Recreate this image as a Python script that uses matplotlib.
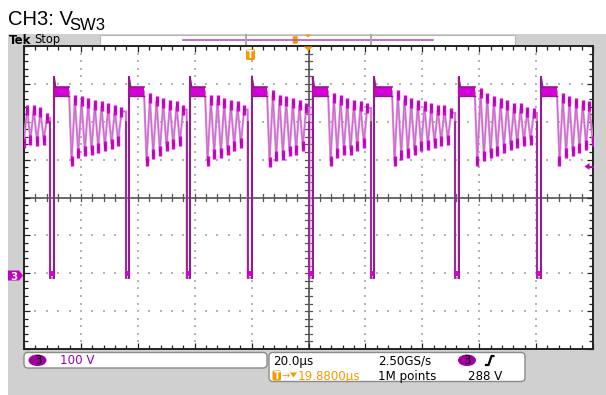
import matplotlib
matplotlib.use("Agg")
import matplotlib.pyplot as plt
from matplotlib.patches import FancyBboxPatch, Rectangle, Ellipse, Polygon

# ---------------- scope settings ----------------
TIME_DIV_US = 20.0          # horizontal scale
VOLT_DIV = 100.0            # CH3 vertical scale
H_DELAY_US = 19.88          # trigger -> screen centre
TRIG_LEVEL_V = 288.0
CH3_OFFSET_DIV = -2         # ground marker position (divisions from centre)

T_LEFT = H_DELAY_US - 5 * TIME_DIV_US
T_RIGHT = H_DELAY_US + 5 * TIME_DIV_US
V_BOTTOM = (-4 - CH3_OFFSET_DIV) * VOLT_DIV
V_TOP = (4 - CH3_OFFSET_DIV) * VOLT_DIV

# ---------------- waveform data (µs, V) ----------------
T_FALL = [-70.98, -44.27, -22.93, -1.49, 20.23, 41.85, 71.38, 100.2]
T_RISE = [-69.57, -43.21, -21.77, 0.0, 21.36, 42.91, 72.68, 101.6]
T_PLATEAU_END = [-64.30, -37.94, -16.50, 5.29, 26.74, 49.23, 78.30, 107.2]

PLATEAU_V = 480.0
PLATEAU_NOISE_V = 13.0
SPIKE_V = 517.0
LOW_V = -12.0

RING_STEP_US = 1.17         # half period of the ringing
RING_DELAY_US = 0.9         # plateau end -> first trough
RING0_START_US = -80.2

RING_VALUES = [
    [344, 432, 353, 432, 348, 427, 353, 410],
    [297, 458, 317, 454, 322, 449, 325, 445, 331, 441, 335, 436, 341, 432, 348, 427],
    [297, 462, 314, 456, 322, 449, 335, 445, 340, 441, 348, 432, 361],
    [297, 458, 316, 458, 317, 449, 325, 445, 335, 441, 343, 432, 357],
    [294, 471, 309, 458, 313, 454, 322, 449, 325, 445, 335, 436, 345],
    [296, 463, 317, 458, 325, 449, 325, 445, 335, 441, 343, 436, 360],
    [296, 471, 313, 458, 317, 449, 325, 445, 335, 441, 339, 436, 343, 432, 348, 432, 353, 423, 380],
    [296, 475, 309, 462, 317, 454, 322, 449, 331, 445, 339, 436, 343, 436, 348, 427, 353, 423, 370],
    [296, 462, 317, 454, 322, 449, 331, 445, 339, 441, 348],
]

# ---------------- colours ----------------
BG_GRAY = "#d0d0d0"
TRACE_LIGHT = "#dc8edc"
TRACE_MID = "#d600d6"
TRACE_DARK = "#8e1c8e"
CH3_PURPLE = "#a000a0"
ORANGE = "#f59a00"

W, H = 606, 395
fig = plt.figure(figsize=(W / 100, H / 100), dpi=100)

# background layer in pixel coordinates
bg = fig.add_axes([0, 0, 1, 1], zorder=0)
bg.set_xlim(0, W)
bg.set_ylim(H, 0)
bg.axis("off")

bg.add_patch(Rectangle((8, 34), W - 8, H - 34, fc=BG_GRAY, ec="none"))
bg.text(8, 25, "CH3: V", fontsize=14.5, family="Liberation Sans", va="baseline")
bg.text(69.5, 29.5, "SW3", fontsize=12, family="Liberation Sans", va="baseline")

# header bar
bg.add_patch(Rectangle((100, 34.5), 415, 10.5, fc="white", ec="#b8b8b8", lw=0.8))
bg.text(9, 43.5, "Tek", fontsize=8.5, weight="bold", family="DejaVu Sans", va="baseline")
bg.text(34, 43.5, "Stop", fontsize=8.3, family="DejaVu Sans", va="baseline")
bg.plot([183, 433], [39.5, 39.5], color="#b556c8", lw=1.2)
for xb in (246, 370.5):
    bg.plot([xb, xb], [34.5, 45], color="#a8a8a8", lw=1.4)
bg.add_patch(FancyBboxPatch((293, 36.5), 4.5, 7, boxstyle="round,pad=0.3,rounding_size=1",
                            fc=ORANGE, ec="none"))
bg.add_patch(Polygon([[305, 34.5], [311, 34.5], [308, 37.5]], closed=True, fc=ORANGE, ec="none"))

# status boxes
bg.add_patch(FancyBboxPatch((24, 352.5), 243, 15.5, boxstyle="round,pad=0,rounding_size=4",
                            fc="white", ec="#8a8a8a", lw=1))
bg.add_patch(FancyBboxPatch((269, 352.5), 256, 29, boxstyle="round,pad=0,rounding_size=4",
                            fc="white", ec="#8a8a8a", lw=1))
STATUS_FONT = dict(fontsize=8.6, family="DejaVu Sans", va="baseline")
bg.add_patch(Ellipse((37.5, 360.3), 18, 11.5, fc=CH3_PURPLE, ec="none"))
bg.text(37.5, 364.5, "3", ha="center", color="black", **STATUS_FONT)
bg.text(60, 364.5, "100 V", color=CH3_PURPLE, **STATUS_FONT)
bg.text(273, 364.5, "20.0µs", color="black", **STATUS_FONT)
bg.text(378, 364.5, "2.50GS/s", color="black", **STATUS_FONT)
bg.add_patch(Ellipse((467, 360.3), 18, 11.5, fc=CH3_PURPLE, ec="none"))
bg.text(467, 364.5, "3", ha="center", color="black", **STATUS_FONT)
bg.plot([485, 488.5, 490, 491.5, 494.5], [365, 365, 360.5, 356, 356], color="black", lw=1.6,
        solid_capstyle="butt")
bg.add_patch(FancyBboxPatch((272.5, 370.5), 8.5, 10, boxstyle="round,pad=0,rounding_size=1.5",
                            fc=ORANGE, ec="none"))
bg.text(276.8, 379, "T", ha="center", color="white", fontsize=7, weight="bold",
        family="DejaVu Sans", va="baseline")
bg.text(281.5, 379.5, "→", color=ORANGE, fontsize=7, family="DejaVu Sans", va="baseline")
bg.add_patch(Polygon([[290, 372.5], [297, 372.5], [293.5, 377.5]], closed=True, fc=ORANGE, ec="none"))
bg.text(298, 380, "19.8800µs", color=ORANGE, **STATUS_FONT)
bg.text(378, 380, "1M points", color="black", **STATUS_FONT)
bg.text(468, 380, f"{TRIG_LEVEL_V:.0f} V", color="black", **STATUS_FONT)

# ---------------- graticule / trace axes ----------------
L, R, T, B = 24, 593, 46, 349
ax = fig.add_axes([L / W, 1 - B / H, (R - L) / W, (B - T) / H], zorder=1)
ax.set_xlim(T_LEFT, T_RIGHT)
ax.set_ylim(V_BOTTOM, V_TOP)
ax.set_facecolor("white")
for s in ax.spines.values():
    s.set_color("#222222")
    s.set_linewidth(1.4)

x_major = [T_LEFT + TIME_DIV_US * i for i in range(11)]
y_major = [V_BOTTOM + VOLT_DIV * j for j in range(9)]
x_minor = [T_LEFT + TIME_DIV_US / 5 * i for i in range(51)]
y_minor = [V_BOTTOM + VOLT_DIV / 5 * j for j in range(41)]
ax.set_xticks(x_major)
ax.set_yticks(y_major)
ax.set_xticks(x_minor, minor=True)
ax.set_yticks(y_minor, minor=True)
ax.tick_params(which="both", direction="in", top=True, right=True, color="#222222",
               labelbottom=False, labelleft=False, width=0.9)
ax.tick_params(which="major", length=4)
ax.tick_params(which="minor", length=3)

x_center = x_major[5]
y_center = y_major[4]
dot_x, dot_y = [], []
for i in range(1, 10):
    if i == 5:
        continue
    for v in y_minor:
        dot_x.append(x_major[i])
        dot_y.append(v)
for j in range(1, 8):
    if j == 4:
        continue
    for t in x_minor:
        dot_x.append(t)
        dot_y.append(y_major[j])
ax.scatter(dot_x, dot_y, s=1.0, marker="s", color="#b4b4b4", linewidths=0, zorder=1)

ax.axvline(x_center, color="#6a6a6a", lw=1.4, zorder=1)
ax.axhline(y_center, color="#6a6a6a", lw=1.4, zorder=1)
tick_dv = 3.2 / 37.9 * VOLT_DIV
tick_dt = 3.2 / 56.9 * TIME_DIV_US
for t in x_minor:
    ax.plot([t, t], [y_center - tick_dv, y_center + tick_dv], color="#555555", lw=0.9, zorder=1)
for v in y_minor:
    ax.plot([x_center - tick_dt, x_center + tick_dt], [v, v], color="#555555", lw=0.9, zorder=1)

# build the CH3 trace: ringing -> fall -> low dwell -> rise -> plateau -> ringing ...
trace_t, trace_v = [], []
ext_t, ext_v = [], []
seg_start = [RING0_START_US] + [pe + RING_DELAY_US for pe in T_PLATEAU_END]
seg_end = T_FALL + [T_RIGHT + 1.0]
for i, vals in enumerate(RING_VALUES):
    if i > 0:
        trace_t.append(T_PLATEAU_END[i - 1])
        trace_v.append(PLATEAU_V)
    for k, v in enumerate(vals):
        t = seg_start[i] + k * RING_STEP_US
        if t > seg_end[i] - 0.25:
            break
        trace_t.append(t)
        trace_v.append(v)
        ext_t.append(t)
        ext_v.append(v)
    if i < len(T_FALL):
        last_v = trace_v[-1]
        trace_t += [T_FALL[i], T_FALL[i], T_RISE[i], T_RISE[i], T_RISE[i] + 0.6]
        trace_v += [last_v, LOW_V, LOW_V, SPIKE_V, PLATEAU_V]

ax.plot(trace_t, trace_v, color=TRACE_LIGHT, lw=1.6, zorder=3, solid_joinstyle="miter")
ax.plot(trace_t, trace_v, color="#c25ac2", lw=0.6, zorder=3, alpha=0.8)
ax.plot(ext_t, ext_v, ls="none", marker="|", ms=7, mew=2.4, color=TRACE_MID, zorder=4)
ax.plot(ext_t, ext_v, ls="none", marker="|", ms=3.5, mew=1.2, color=TRACE_DARK, zorder=5)

for tf, tr, pe in zip(T_FALL, T_RISE, T_PLATEAU_END):
    # switching edges and the low-side dwell
    ax.plot([tf, tf], [LOW_V, 400], color=TRACE_DARK, lw=1.2, zorder=4)
    ax.plot([tr, tr], [LOW_V, SPIKE_V], color=TRACE_DARK, lw=1.4, zorder=4)
    ax.fill_between([tf, tr], [LOW_V + 4, LOW_V + 4], [LOW_V + 18, LOW_V + 18], color=TRACE_MID,
                    lw=0, zorder=4)
    # high-side plateau
    ax.fill_between([tr + 0.2, pe], [PLATEAU_V - PLATEAU_NOISE_V] * 2,
                    [PLATEAU_V + PLATEAU_NOISE_V] * 2, color=TRACE_MID, lw=0, zorder=4)
    ax.plot([tr + 0.2, pe], [PLATEAU_V + PLATEAU_NOISE_V] * 2, color=TRACE_DARK, lw=1.2, zorder=5)
    ax.plot([tr + 0.2, pe], [PLATEAU_V - PLATEAU_NOISE_V] * 2, color=TRACE_DARK, lw=1.0, zorder=5)
    ax.plot([tr, tr + 0.6], [SPIKE_V, PLATEAU_V + PLATEAU_NOISE_V], color=TRACE_DARK, lw=1.0, zorder=5)

# ---------------- markers drawn over the frame ----------------
top = fig.add_axes([0, 0, 1, 1], zorder=2)
top.set_xlim(0, W)
top.set_ylim(H, 0)
top.axis("off")
top.patch.set_alpha(0)
# ground marker for CH3
top.add_patch(Polygon([[8, 270.5], [19, 270.5], [23, 275.5], [19, 280.5], [8, 280.5]],
                      closed=True, fc="#c000c0", ec="none"))
top.text(13.5, 279.5, "3", ha="center", color="white", fontsize=7.5, weight="bold",
         family="DejaVu Sans", va="baseline")
# trigger level arrow
top.add_patch(Polygon([[584.5, 166.5], [589.5, 163], [589.5, 170]], closed=True, fc="#c000c0", ec="none"))
top.plot([589, 593], [166.5, 166.5], color="#c000c0", lw=1.3)
# trigger position and expansion point markers
top.add_patch(FancyBboxPatch((246, 49.5), 9, 10.5, boxstyle="round,pad=0,rounding_size=1.5",
                             fc=ORANGE, ec="none"))
top.text(250.5, 58, "T", ha="center", color="white", fontsize=7, weight="bold",
         family="DejaVu Sans", va="baseline")
top.add_patch(Polygon([[304, 46.5], [312.5, 46.5], [308.3, 51.5]], closed=True, fc=ORANGE, ec="none"))

fig.savefig("out.png", dpi=100)
